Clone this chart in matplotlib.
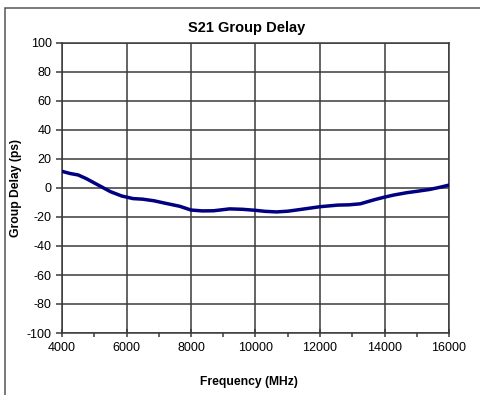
import numpy as np
import matplotlib.pyplot as plt
from matplotlib.patches import Rectangle
from matplotlib.ticker import MultipleLocator

plt.rcParams['font.family'] = ['Liberation Sans', 'DejaVu Sans']
plt.rcParams['axes.unicode_minus'] = False

# S21 group delay trace
freq_mhz = [4000, 4250, 4500, 4750, 5000, 5250, 5500, 5850, 6200, 6500, 6850,
            7200, 7650, 8000, 8350, 8700, 9200, 9600, 10000, 10300, 10650,
            11000, 11300, 11650, 12000, 12300, 12550, 12900, 13250, 13450,
            13700, 14000, 14300, 14700, 15000, 15400, 15700, 16000]
delay_ps = [11.5, 10.0, 9.0, 6.5, 3.5, 0.5, -2.5, -5.5, -7.3, -7.7, -8.8,
            -10.5, -12.6, -15.2, -15.8, -15.7, -14.4, -14.7, -15.4, -16.1, -16.5,
            -16.0, -15.1, -14.0, -12.9, -12.3, -11.8, -11.6, -10.9, -9.6,
            -8.0, -6.3, -4.8, -3.2, -2.3, -1.0, 0.4, 2.0]

x_ticks = np.arange(4000, 16001, 2000)
y_ticks = np.arange(-100, 101, 20)

fig = plt.figure(figsize=(4.81, 3.95), dpi=100)
ax = fig.add_axes([62 / 481, 62 / 395, 387 / 481, 290 / 395])

grid_col = '#3a3a3a'
ax.plot(freq_mhz, delay_ps, color='#000080', lw=2.5, solid_capstyle='round', zorder=3)

ax.set_xlim(4000, 16000)
ax.set_ylim(-100, 100)
ax.set_xticks(x_ticks)
ax.set_yticks(y_ticks)
ax.xaxis.set_minor_locator(MultipleLocator(1000))
ax.grid(True, which='major', color=grid_col, lw=1.1)
for s in ax.spines.values():
    s.set_color(grid_col)
    s.set_linewidth(1.1)

ax.tick_params(axis='x', which='major', direction='inout', length=6, width=1.1,
               color=grid_col, labelsize=9, pad=3.5)
ax.tick_params(axis='x', which='minor', direction='out', length=3, width=1.1,
               color=grid_col)
ax.tick_params(axis='y', direction='out', length=4, width=1.1, color=grid_col,
               labelsize=9, pad=3.5)

fig.text(247 / 481, 1 - 28 / 395, 'S21 Group Delay', ha='center', va='center',
         fontsize=10.5, fontweight='bold')
fig.text(249 / 481, 1 - 382 / 395, 'Frequency (MHz)', ha='center', va='center',
         fontsize=8.7, fontweight='bold')
fig.text(16 / 481, 1 - 188 / 395, 'Group Delay (ps)', ha='center', va='center',
         rotation=90, fontsize=8.7, fontweight='bold')

# chart area frame
fig.patches.append(Rectangle((5 / 481, -0.1), 1.2, 1.1 - 8 / 395,
                             transform=fig.transFigure, fill=False,
                             edgecolor='#555555', lw=1.1))

fig.savefig('out.png', dpi=100)
